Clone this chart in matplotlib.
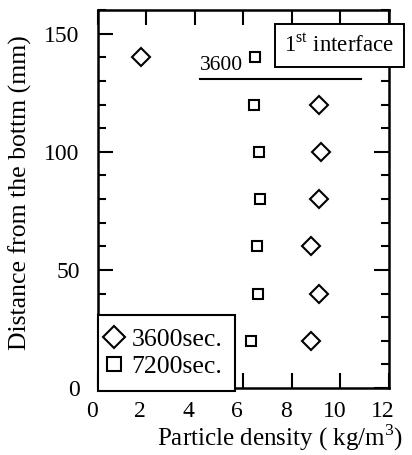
import matplotlib.pyplot as plt
from matplotlib.ticker import MultipleLocator
from matplotlib.transforms import ScaledTranslation

plt.rcParams['font.family'] = ['Liberation Serif', 'DejaVu Serif']
plt.rcParams['mathtext.fontset'] = 'custom'
plt.rcParams['mathtext.rm'] = 'Liberation Serif'

# distance from the bottom (mm)
heights = [140, 120, 100, 80, 60, 40, 20]
# particle density (kg/m3)
dens_3600 = [1.8, 9.1, 9.2, 9.1, 8.8, 9.1, 8.8]
dens_7200 = [6.5, 6.45, 6.65, 6.7, 6.55, 6.6, 6.3]

interface_x = [4.2, 10.85]
interface_y = 131

fig = plt.figure(figsize=(4.12, 4.55), dpi=100)
ax = fig.add_axes([0.237, 0.147, 0.707, 0.831])

ax.plot(dens_3600, heights, 'D', ms=9, mfc='white', mec='black', mew=1.5,
        ls='none', label='3600sec.')
ax.plot(dens_7200, heights, 's', ms=7.5, mfc='white', mec='black', mew=1.5,
        ls='none', label='7200sec.')

ax.plot(interface_x, [interface_y, interface_y], color='black', lw=1.5)
ax.text(4.2, interface_y + 1.5, '3600', fontsize=15.5, ha='left', va='bottom')
ax.text(9.95, 145, r'1$^{\rm st}$ interface', fontsize=16.5, ha='center',
        va='center', clip_on=False, zorder=5,
        bbox=dict(boxstyle='square,pad=0.42', fc='white', ec='black', lw=1.4))

ax.set_xlim(0, 12)
ax.set_ylim(0, 160)
ax.set_xticks([0, 2, 4, 6, 8, 10, 12])
ax.yaxis.set_major_locator(MultipleLocator(50))
ax.yaxis.set_minor_locator(MultipleLocator(10))
ax.tick_params(which='both', direction='in', top=True, right=True, width=1.5,
               labelsize=17)
ax.tick_params(which='major', length=11)
ax.tick_params(which='minor', length=6)
ax.tick_params(axis='x', pad=9)
ax.tick_params(axis='y', pad=13)
for s in ax.spines.values():
    s.set_linewidth(1.8)

# x tick labels sit a little left of their ticks in the original
shift = ScaledTranslation(-6 / 100, 0, fig.dpi_scale_trans)
for lab in ax.get_xticklabels():
    lab.set_transform(lab.get_transform() + shift)

ax.set_xlabel(r'Particle density ( kg/m$^3$)', fontsize=18, va='baseline')
ax.xaxis.set_label_coords(0.625, -0.151)
ax.set_ylabel('Distance from the bottm (mm)', fontsize=18.5, va='center')
ax.yaxis.set_label_coords(-0.265, 0.517)

leg = ax.legend(loc='lower left', bbox_to_anchor=(0, -0.008), borderaxespad=0,
                fontsize=18.5, frameon=True, fancybox=False, edgecolor='black',
                handlelength=0.31, handletextpad=0.5, borderpad=0.5,
                labelspacing=0.18, markerscale=1.3)
leg.get_frame().set_linewidth(1.5)
leg.get_frame().set_alpha(1)

fig.savefig('out.png', dpi=100)
